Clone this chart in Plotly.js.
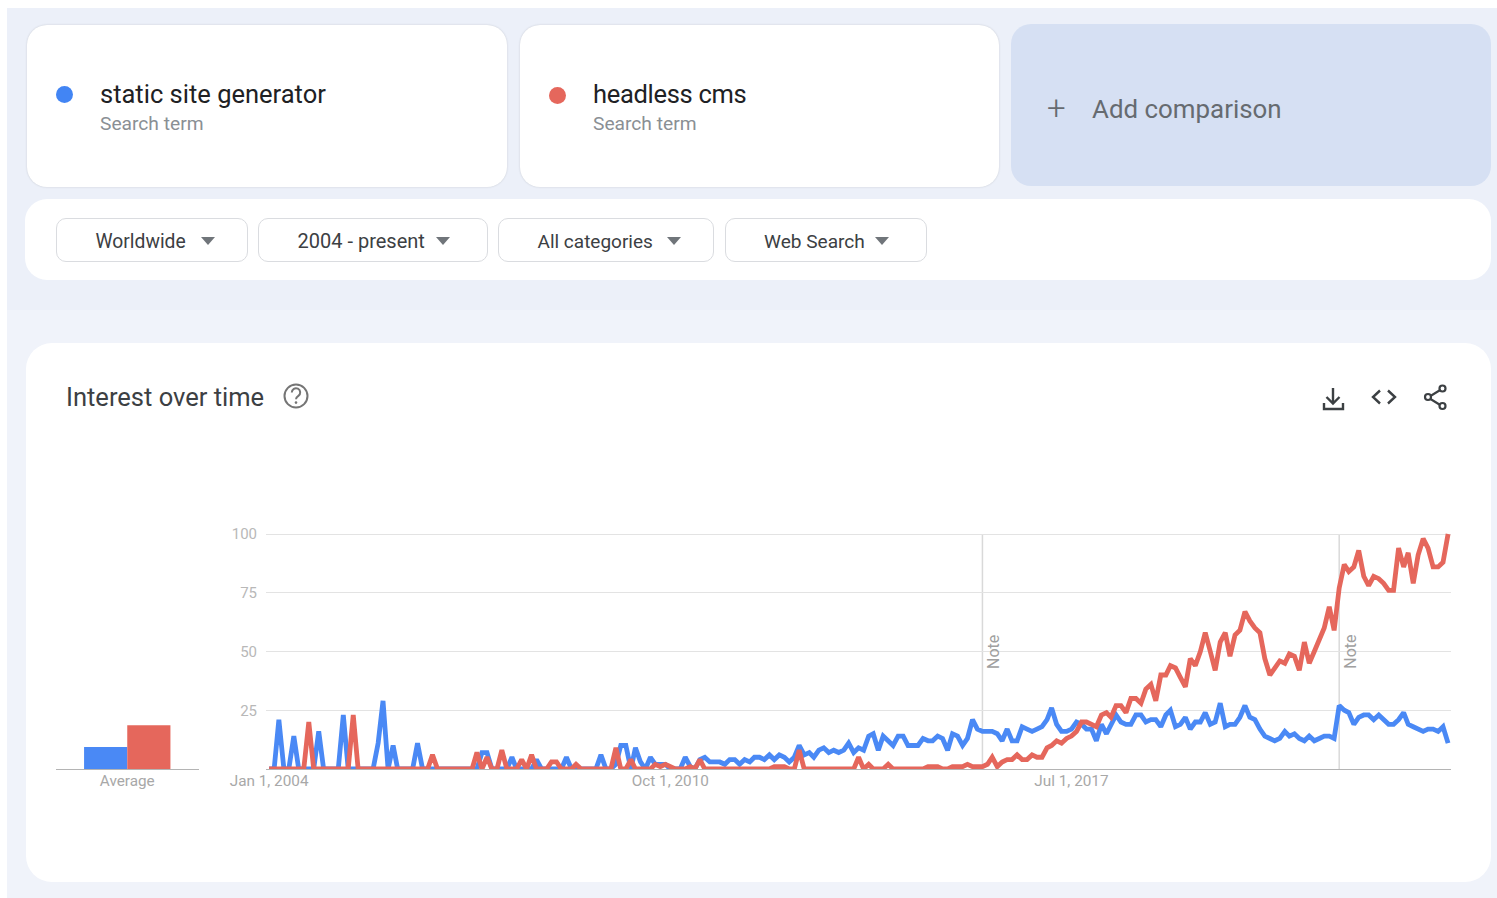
<!DOCTYPE html>
<html><head><meta charset="utf-8">
<script src="https://cdn.plot.ly/plotly-3.0.1.min.js"></script>
<style>
html,body{margin:0;padding:0;background:#fff;overflow:hidden}
#page{position:relative;width:1497px;height:898px;overflow:hidden;font-family:Roboto,sans-serif}
.abs{position:absolute;box-sizing:border-box}
.card{background:#fff;box-shadow:0 0 2px rgba(60,64,67,.22)}
.term{font-size:25.5px;color:#202124;white-space:nowrap;line-height:30px}
.sub{font-size:19.2px;color:#8a8f94;white-space:nowrap;line-height:24px}
.dd{background:#fff;border:1px solid #dadce0;border-radius:10px;height:44px;top:218px}
.ddt{position:absolute;top:0.5px;line-height:44px;color:#3c4043;white-space:nowrap}
.tri{position:absolute;top:18px;width:0;height:0;border-left:7px solid transparent;border-right:7px solid transparent;border-top:8px solid #70757a}
.dot{width:17px;height:17px;border-radius:50%}
#chart{position:absolute;left:0;top:0;width:1497px;height:898px}
</style></head><body>
<div id="page">
<div class="abs" style="left:7px;top:8px;width:1490px;height:302px;background:#ecf0f9"></div>
<div class="abs" style="left:7px;top:310px;width:1490px;height:588px;background:#f0f3fa"></div>

<div class="abs card" style="left:27px;top:25px;width:480px;height:162px;border-radius:20px"></div>
<div class="abs dot" style="left:56px;top:86px;background:#4285f4"></div>
<div class="abs term" style="left:100px;top:79px">static site generator</div>
<div class="abs sub" style="left:100px;top:112px">Search term</div>

<div class="abs card" style="left:520px;top:25px;width:479px;height:162px;border-radius:20px"></div>
<div class="abs dot" style="left:549px;top:86.5px;background:#e5675c"></div>
<div class="abs term" style="left:593px;top:79px;letter-spacing:-0.3px">headless cms</div>
<div class="abs sub" style="left:593px;top:112px">Search term</div>

<div class="abs" style="left:1011px;top:24px;width:480px;height:162px;border-radius:20px;background:#d6e0f3"></div>
<div class="abs" style="left:1047px;top:88px;font-size:33px;line-height:40px;font-weight:300;color:#666b70">+</div>
<div class="abs" style="left:1092px;top:94px;font-size:25.9px;line-height:30px;color:#666b70;white-space:nowrap">Add comparison</div>

<div class="abs" style="left:25px;top:199px;width:1466px;height:81px;border-radius:22px;background:#fff"></div>
<div class="abs dd" style="left:56px;width:192px"><span class="ddt" style="left:38.5px;font-size:19.3px">Worldwide</span><span class="tri" style="left:143.5px"></span></div>
<div class="abs dd" style="left:258px;width:230px"><span class="ddt" style="left:38.5px;font-size:20px;top:0">2004 - present</span><span class="tri" style="left:176.5px"></span></div>
<div class="abs dd" style="left:498px;width:216px"><span class="ddt" style="left:38.5px;font-size:19px">All categories</span><span class="tri" style="left:167.5px"></span></div>
<div class="abs dd" style="left:724.5px;width:202.5px"><span class="ddt" style="left:38.5px;font-size:19.1px">Web Search</span><span class="tri" style="left:149.5px"></span></div>

<div class="abs" style="left:26px;top:343px;width:1465px;height:539px;border-radius:26px;background:#fff"></div>
<div class="abs" style="left:66px;top:382px;font-size:25.5px;line-height:30px;color:#3c4043;white-space:nowrap">Interest over time</div>
<svg class="abs" style="left:0;top:0" width="1497" height="898" fill="none">
  <circle cx="296" cy="396" r="11.5" stroke="#757575" stroke-width="2"/>
  <path d="M291.8 392.5a4.2 4.2 0 1 1 6.6 3.4c-1.5 1-2.4 1.8-2.4 3.4" stroke="#757575" stroke-width="2"/>
  <circle cx="296" cy="402.6" r="1.3" fill="#757575"/>
  <path d="M1333 388v15M1326.5 397l6.5 6.5 6.5-6.5M1324 403v6h19v-6" stroke="#3c4043" stroke-width="2.4"/>
  <path d="M1380 390.5l-7 6.5 7 6.5M1388 390.5l7 6.5-7 6.5" stroke="#3c4043" stroke-width="2.4"/>
  <path d="M1441 389.5l-13 8 13 8" stroke="#3c4043" stroke-width="2.2"/>
  <circle cx="1442.5" cy="388.5" r="3" fill="#fff" stroke="#3c4043" stroke-width="2.2"/>
  <circle cx="1428" cy="397" r="3" fill="#fff" stroke="#3c4043" stroke-width="2.2"/>
  <circle cx="1442.5" cy="406" r="3" fill="#fff" stroke="#3c4043" stroke-width="2.2"/>
</svg>
<div id="chart"></div>
</div>
<script>
// Monthly interest, Jan 2004 onward
var staticSiteGenerator = [
0,0,21,0,0,14,0,0,0,0,
16,0,0,0,0,23,0,0,0,0,
0,0,11,29,0,10,0,0,0,0,
11,0,0,0,0,0,0,0,0,0,
0,0,0,7,7,0,0,0,0,5,
0,0,0,0,4,0,0,0,0,0,
5,0,0,0,0,0,0,6,0,0,
2,10,10,0,9,3,0,5,2,2,
2,0,0,0,5,1,0,4,5,3,
3,3,2,4,4,2,4,3,5,5,
4,6,4,6,5,3,5,10,6,7,
5,8,9,7,8,7,8,11,7,9,
8,14,15,8,14,12,10,14,14,10,
10,10,13,12,12,14,13,8,15,14,
10,13,21,17,16,16,16,15,12,17,
12,12,18,17,16,17,18,21,26,19,
16,16,17,20,19,17,17,12,19,15,
19,23,20,19,19,23,23,20,21,21,
18,23,25,18,19,22,17,20,20,24,
19,20,28,18,19,19,22,27,22,21,
17,14,13,12,13,16,14,15,13,12,
14,12,13,14,14,13,27,25,24,19,
22,23,23,21,23,21,19,19,21,24,
19,18,17,16,17,17,16,18,11];
var headlessCms = [
0,0,0,0,0,0,0,0,20,0,
0,0,0,0,0,0,0,23,0,0,
0,0,0,0,0,0,0,0,0,0,
0,0,0,6,0,0,0,0,0,0,
0,0,7,0,5,0,0,8,0,0,
0,4,0,6,0,0,0,3,3,0,
0,0,2,0,0,0,0,0,0,0,
9,0,0,4,0,0,0,0,2,1,
2,1,0,0,0,1,0,4,0,0,
0,0,0,0,0,0,0,0,0,0,
0,0,1,1,1,0,0,8,0,0,
0,0,0,0,0,0,0,0,0,5,
0,2,0,0,0,2,0,0,0,0,
0,0,0,1,1,1,0,0,1,1,
1,2,1,1,1,2,5,1,3,4,
4,6,4,4,6,5,5,9,10,12,
11,13,14,16,20,20,19,18,23,24,
22,27,27,24,30,30,28,34,36,29,
40,40,44,43,39,35,47,44,50,58,
50,42,54,58,48,57,59,67,63,60,
58,47,40,43,46,45,49,48,42,54,
45,50,55,60,69,59,77,87,84,86,
93,82,78,82,81,79,76,76,94,86,
92,79,91,98,94,86,86,88,100];
var averageStatic = [9.4];
var averageHeadless = [18.6];
var averageCategory = ['Average'];
var xTickDates = ['2004-01-01','2010-10-01','2017-07-01'];
var xTickLabels = ['Jan 1, 2004','Oct 1, 2010','Jul 1, 2017'];
var yTicks = [25,50,75,100];
var noteDates = ['2016-01-01','2022-01-01'];

var months = staticSiteGenerator.map(function(_, i){
  var y = 2004 + Math.floor(i/12), m = i%12 + 1;
  return y + '-' + (m<10?'0':'') + m + '-01';
});
var W = 1497, H = 898, BLUE = '#4a89f5', RED = '#e5675c', GREY = '#a8a8a8';
var yMax = 102, pxPerUnit = 2.35, yZeroPx = 769;
var yDomain = [(H-yZeroPx)/H, (H-yZeroPx+yMax*pxPerUnit)/H];

var traces = [
 {type:'scatter',mode:'lines',x:months,y:staticSiteGenerator,xaxis:'x',yaxis:'y',cliponaxis:false,line:{color:BLUE,width:4.8,shape:'linear'}},
 {type:'scatter',mode:'lines',x:months,y:headlessCms,xaxis:'x',yaxis:'y',cliponaxis:false,line:{color:RED,width:4.8,shape:'linear'}},
 {type:'bar',x:averageCategory,y:averageStatic,xaxis:'x2',yaxis:'y2',marker:{color:BLUE}},
 {type:'bar',x:averageCategory,y:averageHeadless,xaxis:'x2',yaxis:'y2',marker:{color:RED}}
];
var shapes = noteDates.map(function(d){
  return {type:'line',xref:'x',yref:'y',x0:d,x1:d,y0:0,y1:100,layer:'below',line:{color:'#d9d9d9',width:1.5}};
});
var annotations = noteDates.map(function(d){
  return {xref:'x',yref:'y',x:d,y:50,text:'Note',textangle:-90,showarrow:false,xshift:11,
          font:{family:'Roboto',size:16,color:'#a0a0a0'}};
});
var xTickFont = {family:'Roboto',size:15.3,color:GREY};
var layout = {
  width:W,height:H,margin:{l:0,r:0,t:0,b:0},
  paper_bgcolor:'rgba(0,0,0,0)',plot_bgcolor:'rgba(0,0,0,0)',
  showlegend:false,barmode:'group',bargap:0.394,
  font:{family:'Roboto',size:15,color:GREY},
  xaxis:{domain:[266/W,1451/W],type:'date',range:['2003-12-13','2023-11-19'],anchor:'y',
    tickmode:'array',tickvals:xTickDates,ticktext:xTickLabels,showgrid:false,zeroline:false,
    showline:true,linecolor:'#b4b4b4',linewidth:1.2,ticks:'',ticklabelstandoff:-3,tickfont:xTickFont},
  xaxis2:{domain:[56/W,198.5/W],type:'category',anchor:'y2',showgrid:false,zeroline:false,
    showline:true,linecolor:'#b4b4b4',linewidth:1.2,ticks:'',ticklabelstandoff:-3,tickfont:xTickFont},
  yaxis:{domain:yDomain,range:[0,yMax],anchor:'x',tickmode:'array',tickvals:yTicks,
    showgrid:true,gridcolor:'#e3e3e3',gridwidth:1,zeroline:false,showline:false,
    ticks:'outside',ticklen:5,tickcolor:'rgba(0,0,0,0)',
    tickfont:{family:'Roboto',size:15,color:'#b8b8b8'}},
  yaxis2:{domain:yDomain,range:[0,yMax],anchor:'x2',visible:false,showgrid:false,zeroline:false},
  shapes:shapes,annotations:annotations
};
Plotly.newPlot('chart',traces,layout,{displayModeBar:false,staticPlot:true});
</script>
</body></html>
